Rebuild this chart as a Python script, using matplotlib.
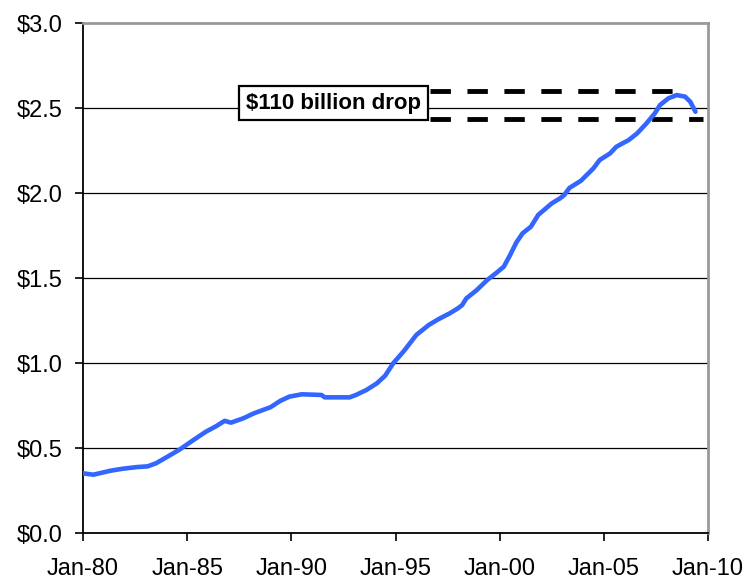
import matplotlib
matplotlib.use("Agg")
import matplotlib.pyplot as plt

plt.rcParams['font.family'] = ['Liberation Sans', 'DejaVu Sans']

# decimal year -> outstanding balance ($ trillions)
years = [1980.0, 1980.5, 1981.3, 1981.9, 1982.6, 1983.1, 1983.5, 1984.0, 1984.65,
         1985.3, 1985.9, 1986.4, 1986.8, 1987.1, 1987.7, 1988.2, 1989.0, 1989.45,
         1989.9, 1990.5, 1991.45, 1991.6, 1992.8, 1993.1, 1993.6, 1994.1, 1994.5,
         1994.9, 1995.4, 1996.0, 1996.6, 1997.05, 1997.6, 1998.0, 1998.2, 1998.4,
         1998.9, 1999.4, 1999.85, 2000.2, 2000.5, 2000.8, 2001.1, 2001.5, 2001.85,
         2002.5, 2002.9, 2003.1, 2003.35, 2003.9, 2004.5, 2004.8, 2005.3, 2005.6,
         2006.2, 2006.6, 2007.05, 2007.45, 2007.7, 2008.1, 2008.5, 2008.9, 2009.15,
         2009.4]
values = [0.351, 0.343, 0.366, 0.378, 0.388, 0.392, 0.410, 0.445, 0.492,
          0.547, 0.596, 0.629, 0.660, 0.649, 0.675, 0.704, 0.740, 0.776,
          0.802, 0.816, 0.812, 0.798, 0.798, 0.812, 0.841, 0.880, 0.925,
          1.000, 1.070, 1.165, 1.224, 1.257, 1.292, 1.322, 1.341, 1.380,
          1.429, 1.488, 1.531, 1.567, 1.635, 1.709, 1.763, 1.802, 1.871,
          1.939, 1.969, 1.988, 2.030, 2.072, 2.145, 2.194, 2.233, 2.272,
          2.312, 2.351, 2.410, 2.469, 2.518, 2.557, 2.576, 2.567, 2.537,
          2.478]

tick_years = [1980, 1985, 1990, 1995, 2000, 2005, 2010]
tick_labels = ['Jan-80', 'Jan-85', 'Jan-90', 'Jan-95', 'Jan-00', 'Jan-05', 'Jan-10']
y_ticks = [0.0, 0.5, 1.0, 1.5, 2.0, 2.5, 3.0]

drop_label = '$110 billion drop'
drop_top = 2.598
drop_bottom = 2.437

fig = plt.figure(figsize=(7.48, 5.81), dpi=100)
ax = fig.add_axes([0.111, 0.0826, 0.8355, 0.8778])

ax.plot(years, values, color='#3366FF', lw=3.3, solid_capstyle='round', zorder=3)

ax.set_xlim(1980, 2010)
ax.set_ylim(0, 3.0)
ax.set_xticks(tick_years)
ax.set_xticklabels(tick_labels)
ax.set_yticks(y_ticks)
ax.set_yticklabels([f'${v:.1f}' for v in y_ticks])
ax.tick_params(axis='both', labelsize=17, length=6, width=1.2, color='black')
ax.tick_params(axis='y', pad=9)
ax.tick_params(axis='x', pad=12)

for v in y_ticks[1:-1]:
    ax.axhline(v, color='black', lw=0.9, zorder=1)

ax.spines['left'].set_color('black')
ax.spines['left'].set_linewidth(1.3)
ax.spines['bottom'].set_color('black')
ax.spines['bottom'].set_linewidth(1.3)
ax.spines['top'].set_color('#999999')
ax.spines['top'].set_linewidth(2)
ax.spines['right'].set_color('#999999')
ax.spines['right'].set_linewidth(2)

# dashed guides marking the peak and the latest level
ax.plot([1996.66, 2008.37], [drop_top, drop_top], color='black', lw=3.5,
        dashes=(4.2, 3.4), zorder=2)
ax.plot([1996.66, 2009.76], [drop_bottom, drop_bottom], color='black', lw=3.5,
        dashes=(4.2, 3.4), zorder=2)
ax.text(1992.03, 2.529, drop_label, fontsize=16, fontweight='bold',
        ha='center', va='center', zorder=4,
        bbox=dict(boxstyle='square,pad=0.3', facecolor='white',
                  edgecolor='black', linewidth=1.6))

fig.savefig('out.png', dpi=100)
